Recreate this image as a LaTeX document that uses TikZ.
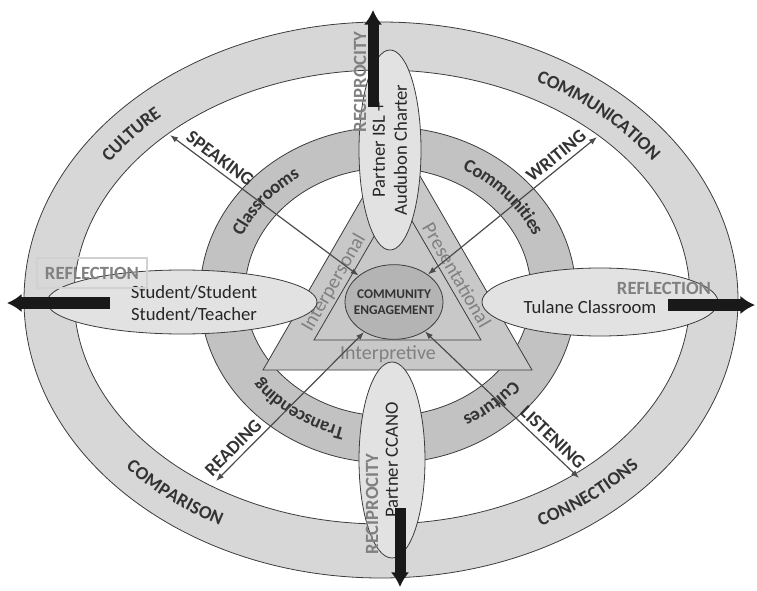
\documentclass[tikz,border=0pt]{standalone}
\usepackage{fontspec}
\setmainfont{Carlito}
\usetikzlibrary{shapes.geometric, arrows.meta, decorations.text, calc}

\definecolor{outerring}{HTML}{D7D7D7}
\definecolor{midring}{HTML}{C2C2C2}
\definecolor{trifill}{HTML}{C8C8C8}
\definecolor{corefill}{HTML}{B4B4B4}
\definecolor{sidefill}{HTML}{E2E2E2}
\definecolor{edge}{HTML}{3C3C3C}
\definecolor{labelgray}{HTML}{808080}
\definecolor{darktext}{HTML}{333333}

\begin{document}
\begin{tikzpicture}[x=0.75pt, y=0.75pt,
    edgeline/.style={draw=edge, line width=0.6pt},
    sideell/.style={ellipse, edgeline, fill=sidefill, inner sep=0pt},
    plaintext/.style={font=\fontsize{14pt}{16.5pt}\selectfont, text=black!85, align=center},
    lbl/.style={font=\fontsize{14pt}{16pt}\selectfont\bfseries, text=darktext},
    graylbl/.style={font=\fontsize{14pt}{16pt}\selectfont\bfseries, text=labelgray},
    trilbl/.style={font=\fontsize{15pt}{17pt}\selectfont, text=labelgray},
    thinarrow/.style={draw=black!70, line width=0.9pt, {Latex[length=6pt]}-{Latex[length=6pt]}},
    bigarrow/.style={draw=black!90, line width=8.25pt, -{Latex[length=11pt, width=14pt]}},
    ringlabel/.style={decorate, decoration={text along path, text align=center, raise=-4.6pt,
        text={|\fontsize{14pt}{16pt}\selectfont\bfseries\color{darktext}|#1}}}]
  \useasboundingbox (0,0) rectangle (757,590);

  % rings
  \coordinate (oc) at (381.5,291.5);
  \coordinate (mc) at (388,296.5);
  \path[fill=outerring, edgeline, even odd rule]
    (381,290) ellipse [x radius=357, y radius=278]
    (382,293) ellipse [x radius=308, y radius=227];
  \path[fill=midring, edgeline, even odd rule]
    (388,295) ellipse [x radius=188, y radius=168]
    (388,298) ellipse [x radius=143, y radius=124];

  % triangle of modes
  \path[fill=trifill, edgeline] (263,220) -- (532,220) -- (397.5,453) -- cycle;
  \path[edgeline] (314,250) -- (481,250) -- (397.5,394) -- cycle;
  \node[trilbl, rotate=60] (tinter) at (334,307) {Interpersonal};
  \node[trilbl, rotate=-60] (tpres) at (457,315) {Presentational};
  \node[trilbl] (tinterp) at (388,236) {Interpretive};

  % ring labels
  \path[ringlabel=CULTURE] ($(oc)+(160:332.5 and 252.5)$) arc[start angle=160, end angle=120, x radius=332.5, y radius=252.5];
  \path[ringlabel=COMMUNICATION] ($(oc)+(72:332.5 and 252.5)$) arc[start angle=72, end angle=22, x radius=332.5, y radius=252.5];
  \path[ringlabel=COMPARISON] ($(oc)+(205:332.5 and 252.5)$) arc[start angle=205, end angle=255, x radius=332.5, y radius=252.5];
  \path[ringlabel=CONNECTIONS] ($(oc)+(-75:332.5 and 252.5)$) arc[start angle=-75, end angle=-25, x radius=332.5, y radius=252.5];
  \path[ringlabel=Classrooms] ($(mc)+(165:165.5 and 146)$) arc[start angle=165, end angle=115, x radius=165.5, y radius=146];
  \path[ringlabel=Communities] ($(mc)+(68:165.5 and 146)$) arc[start angle=68, end angle=18, x radius=165.5, y radius=146];
  \path[ringlabel=Transcending] ($(mc)+(262:165.5 and 146)$) arc[start angle=262, end angle=209, x radius=165.5, y radius=146];
  \path[ringlabel=Cultures] ($(mc)+(-25:165.5 and 146)$) arc[start angle=-25, end angle=-75, x radius=165.5, y radius=146];

  % partner ellipses
  \node[sideell, minimum width=202.5pt, minimum height=48pt] (stu) at (182,288) {};
  \node[plaintext] (stutext) at (194,287) {Student/Student\\Student/Teacher};
  \node[sideell, minimum width=177pt, minimum height=51pt] (tul) at (600,288) {};
  \node[plaintext] (tultext) at (590,283) {Tulane Classroom};
  \node[sideell, plaintext, rotate=90, minimum width=150pt, minimum height=46.5pt] (isl) at (390,440) {Partner ISL +\\Audubon Charter};
  \node[sideell, plaintext, rotate=90, minimum width=147pt, minimum height=49.5pt] (ccano) at (392,130) {Partner CCANO};

  % core
  \node[ellipse, edgeline, fill=corefill, inner sep=0pt, minimum width=73.5pt, minimum height=56pt] (ce) at (394,288) {};
  \node[font=\fontsize{10pt}{12pt}\selectfont\bfseries, text=black!80, align=center] (cetext) at (ce) {COMMUNITY\\ENGAGEMENT};

  % skills
  \coordinate (spk) at (170,455);
  \coordinate (wrt) at (597,453);
  \coordinate (rdg) at (216,109);
  \coordinate (lst) at (579,112);
  \draw[thinarrow] (spk) -- (ce) node[lbl, sloped, above, pos=0.23] {SPEAKING};
  \draw[thinarrow] (ce) -- (wrt) node[lbl, sloped, above, pos=0.8] {WRITING};
  \draw[thinarrow] (rdg) -- (ce) node[lbl, sloped, above, pos=0.17] {READING};
  \draw[thinarrow] (ce) -- (lst) node[lbl, sloped, above, pos=0.78] {LISTENING};

  % outward arrows
  \coordinate (upA) at (373,483);
  \coordinate (upB) at (373,580);
  \coordinate (dnA) at (400,82);
  \coordinate (dnB) at (400,3);
  \coordinate (lfA) at (110,287);
  \coordinate (lfB) at (7,287);
  \coordinate (rtA) at (668,285);
  \coordinate (rtB) at (755,285);
  \draw[bigarrow] (upA) -- (upB);
  \draw[bigarrow] (dnA) -- (dnB);
  \draw[bigarrow] (lfA) -- (lfB);
  \draw[bigarrow] (rtA) -- (rtB);

  \node[graylbl, draw=black!18, line width=1pt, minimum width=82.5pt, minimum height=22.5pt] (reflL) at (92,317) {REFLECTION};
  \node[graylbl] (reflR) at (664,302) {REFLECTION};
  \node[graylbl, rotate=90] (recT) at (360,508) {RECIPROCITY};
  \node[graylbl, rotate=90] (recB) at (372,86) {RECIPROCITY};
\end{tikzpicture}
\end{document}
